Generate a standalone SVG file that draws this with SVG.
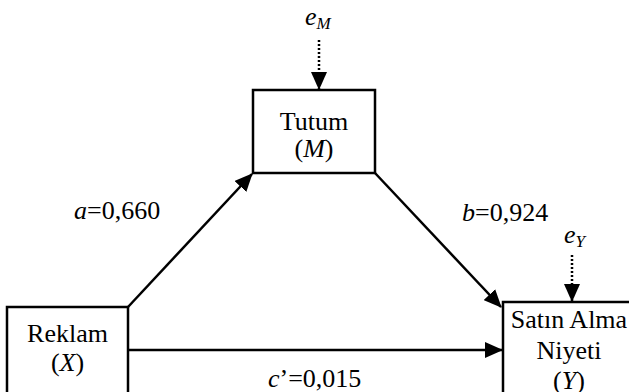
<svg xmlns="http://www.w3.org/2000/svg" width="629" height="392" viewBox="0 0 629 392">
<style>
text{font-family:"Liberation Serif","Times New Roman",serif;fill:#000;}
.t{font-size:26px;text-anchor:middle;}
.box{fill:#fff;stroke:#000;stroke-width:2.5;}
.ln{stroke:#000;stroke-width:2.5;fill:none;}
.dot{stroke:#000;stroke-width:2.5;stroke-dasharray:2,2;fill:none;}
.i{font-style:italic;}
</style>
<defs>
<marker id="ah" markerUnits="userSpaceOnUse" markerWidth="18" markerHeight="16" refX="17" refY="8" orient="auto">
<path d="M0,0 L18,8 L0,16 Z" fill="#000"/>
</marker>
</defs>
<rect width="629" height="392" fill="#fff"/>
<g id="connectors">
<line class="ln" x1="128" y1="307" x2="252" y2="174" marker-end="url(#ah)"/>
<line class="ln" x1="375" y1="173" x2="501" y2="307" marker-end="url(#ah)"/>
<line class="ln" x1="128" y1="350" x2="502" y2="350" marker-end="url(#ah)"/>
<line class="dot" x1="319" y1="40" x2="319" y2="89" marker-end="url(#ah)"/>
<line class="dot" x1="572" y1="255" x2="572" y2="301" marker-end="url(#ah)"/>
</g>
<g id="tutum">
<rect class="box" x="253" y="90" width="122" height="83"/>
<text class="t" x="314" y="130">Tutum</text>
<text class="t" x="314" y="157">(<tspan class="i">M</tspan>)</text>
</g>
<g id="reklam">
<rect class="box" x="7" y="307" width="121" height="95"/>
<text class="t" x="67.5" y="342">Reklam</text>
<text class="t" x="67.5" y="371">(<tspan class="i">X</tspan>)</text>
</g>
<g id="satin">
<rect class="box" x="503" y="302" width="132" height="100"/>
<text class="t" x="569" y="328">Satın Alma</text>
<text class="t" x="569" y="359">Niyeti</text>
<text class="t" x="569" y="389">(<tspan class="i">Y</tspan>)</text>
</g>
<g id="labels">
<text x="305" y="25" font-size="26" class="i">e<tspan font-size="17" dy="4">M</tspan></text>
<text x="564" y="243" font-size="26" class="i">e<tspan font-size="17" dy="4">Y</tspan></text>
<text x="74" y="219" font-size="26"><tspan class="i">a</tspan>=0,660</text>
<text x="462" y="221" font-size="26"><tspan class="i">b</tspan>=0,924</text>
<text x="268" y="387" font-size="26"><tspan class="i">c</tspan>’=0,015</text>
</g>
</svg>
